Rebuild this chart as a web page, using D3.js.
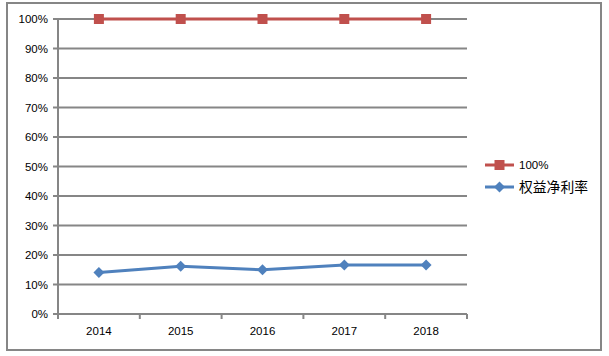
<!DOCTYPE html>
<html><head><meta charset="utf-8">
<script src="https://cdn.jsdelivr.net/npm/d3@7"></script>
<style>body{margin:0;background:#fff}svg{display:block}</style>
</head><body>
<script>
const categories = ["2014","2015","2016","2017","2018"];
const series100 = [1,1,1,1,1];
const roe = [0.141,0.162,0.150,0.166,0.166];
const yTicks = [0,0.1,0.2,0.3,0.4,0.5,0.6,0.7,0.8,0.9,1.0];
const seriesNames = ["100%","权益净利率"];

const W=609,H=356;
const svg=d3.select("body").append("svg").attr("width",W).attr("height",H);
svg.append("rect").attr("x",7).attr("y",3).attr("width",594).attr("height",347)
  .attr("fill","#fff").attr("stroke","#868686").attr("stroke-width",2);

const x0=58,x1=467,yTop=19,yBot=314;
const x=d3.scaleBand().domain(categories).range([x0,x1]).padding(0);
const y=d3.scaleLinear().domain([0,1]).range([yBot,yTop]);
const grid="#868686";
const font="'Liberation Sans', Arial, sans-serif";

svg.append("g").selectAll("line").data(yTicks).join("line")
  .attr("x1",x0-5).attr("x2",x1).attr("y1",d=>y(d)).attr("y2",d=>y(d))
  .attr("stroke",grid).attr("stroke-width",2);
svg.append("line").attr("x1",x0).attr("x2",x0).attr("y1",yTop).attr("y2",yBot+5)
  .attr("stroke",grid).attr("stroke-width",2);
const bounds=categories.map(c=>x(c)).concat([x1]);
svg.append("g").selectAll("line").data(bounds).join("line")
  .attr("x1",d=>d).attr("x2",d=>d).attr("y1",yBot).attr("y2",yBot+5)
  .attr("stroke",grid).attr("stroke-width",2);
svg.append("g").selectAll("text").data(yTicks).join("text")
  .attr("x",48).attr("y",d=>y(d)).attr("dy","0.35em").attr("text-anchor","end")
  .attr("font-family",font).attr("font-size",11.5).attr("fill","#000")
  .text(d=>d3.format(".0%")(d));
svg.append("g").selectAll("text").data(categories).join("text")
  .attr("x",d=>x(d)+x.bandwidth()/2).attr("y",335).attr("text-anchor","middle")
  .attr("font-family",font).attr("font-size",11.5).attr("fill","#000")
  .text(d=>d);

const cx=d=>x(d)+x.bandwidth()/2;
const line=d3.line().x((d,i)=>cx(categories[i])).y(d=>y(d));
const red="#C0504D",blue="#4F81BD";
svg.append("path").datum(series100).attr("d",line).attr("fill","none").attr("stroke",red).attr("stroke-width",3);
svg.append("g").selectAll("rect").data(series100).join("rect")
  .attr("x",(d,i)=>cx(categories[i])-5).attr("y",d=>y(d)-5).attr("width",10).attr("height",10).attr("fill",red);
svg.append("path").datum(roe).attr("d",line).attr("fill","none").attr("stroke",blue).attr("stroke-width",3);
svg.append("g").selectAll("path").data(roe).join("path")
  .attr("d",d3.symbol().type(d3.symbolSquare).size(60))
  .attr("transform",(d,i)=>`translate(${cx(categories[i])},${y(d)}) rotate(45)`)
  .attr("fill",blue);

const lg=svg.append("g");
const items=[{n:seriesNames[0],c:red,t:"sq",yy:165},{n:seriesNames[1],c:blue,t:"dm",yy:187}];
items.forEach(it=>{
  lg.append("line").attr("x1",485).attr("x2",514).attr("y1",it.yy).attr("y2",it.yy).attr("stroke",it.c).attr("stroke-width",3);
  if(it.t==="sq") lg.append("rect").attr("x",494.5).attr("y",it.yy-5).attr("width",10).attr("height",10).attr("fill",it.c);
  else lg.append("path").attr("d",d3.symbol().type(d3.symbolSquare).size(60)).attr("transform",`translate(499.5,${it.yy}) rotate(45)`).attr("fill",it.c);
  lg.append("text").attr("x",519).attr("y",it.yy).attr("dy","0.35em")
    .attr("font-family",it.t==="sq"?font:"'Noto Sans CJK SC', sans-serif").attr("font-size",it.t==="sq"?11.5:13.8).text(it.n);
});
</script>
</body></html>
